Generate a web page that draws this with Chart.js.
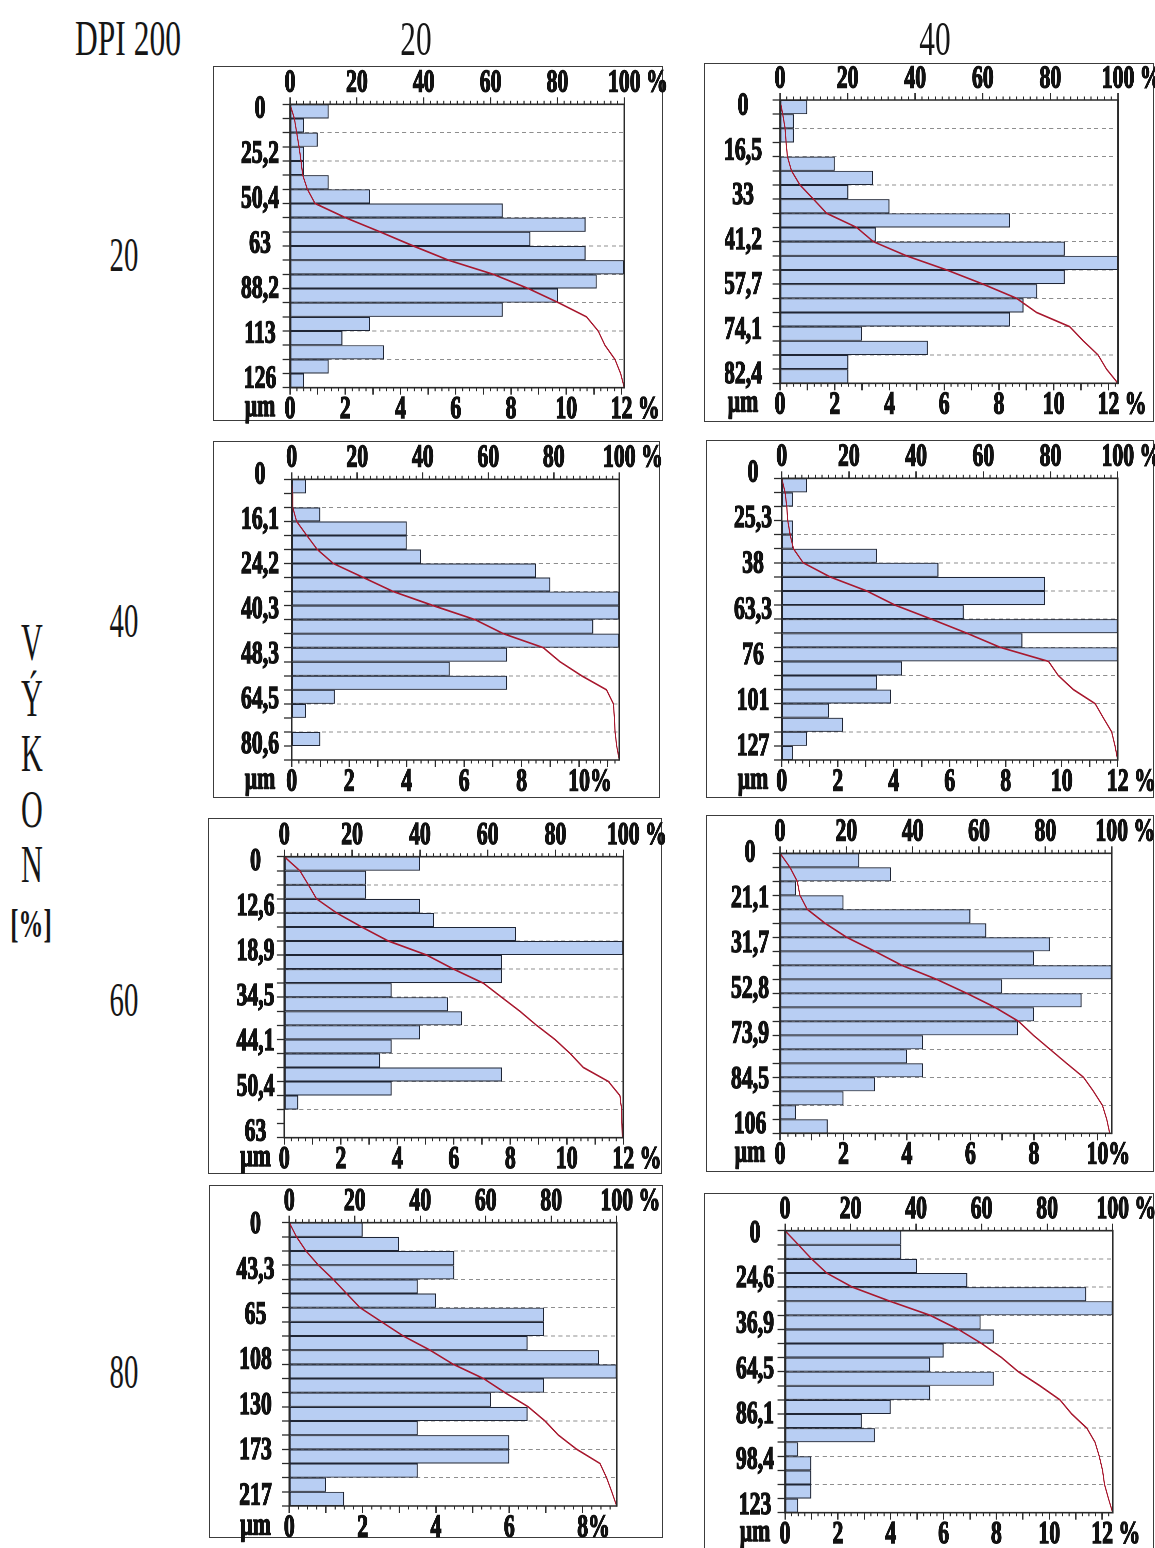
<!DOCTYPE html>
<html lang="cs">
<head>
<meta charset="utf-8">
<title>DPI 200</title>
<script src="https://cdn.jsdelivr.net/npm/chart.js@4.4.1/dist/chart.umd.min.js"></script>
<style>
  html, body { margin: 0; padding: 0; background: #fff; }
  body { position: relative; width: 1155px; height: 1548px; overflow: hidden; }
  .txt { position: absolute; font-family: "Liberation Serif", "Times New Roman", serif; color: #161616;
         line-height: 1; white-space: nowrap; }
  .frame { position: absolute; box-sizing: border-box; border: 1.5px solid #3c3c3c; }
  .plotbox { position: absolute; transform-origin: 0 0; }
  .plotbox canvas { display: block; }
</style>
</head>
<body>
<script>
// ---------------------------------------------------------------------------
// Size-class labels [µm] printed beside each histogram (rows = výkon, cols = 20 / 40)
const size_20_20 = ['0', '25,2', '50,4', '63', '88,2', '113', '126'];
const size_20_40 = ['0', '16,5', '33', '41,2', '57,7', '74,1', '82,4'];
const size_40_20 = ['0', '16,1', '24,2', '40,3', '48,3', '64,5', '80,6'];
const size_40_40 = ['0', '25,3', '38', '63,3', '76', '101', '127'];
const size_60_20 = ['0', '12,6', '18,9', '34,5', '44,1', '50,4', '63'];
const size_60_40 = ['0', '21,1', '31,7', '52,8', '73,9', '84,5', '106'];
const size_80_20 = ['0', '43,3', '65', '108', '130', '173', '217'];
const size_80_40 = ['0', '24,6', '36,9', '64,5', '86,1', '98,4', '123'];

// Share of particles in each of the 20 size classes [%], finest class first
const freq_20_20 = [1.4, 0.5, 1.0, 0.5, 0.5, 1.4, 2.9, 7.7, 10.7, 8.7, 10.7, 12.1, 11.1, 9.7, 7.7, 2.9, 1.9, 3.4, 1.4, 0.5];
const freq_20_40 = [1.0, 0.5, 0.5, 0, 2.0, 3.4, 2.5, 4.0, 8.4, 3.5, 10.4, 12.35, 10.4, 9.4, 8.9, 8.4, 3.0, 5.4, 2.5, 2.5];
const freq_40_20 = [0.5, 0, 1.0, 4.0, 4.0, 4.5, 8.5, 9.0, 11.4, 11.4, 10.5, 11.4, 7.5, 5.5, 7.5, 1.5, 0.5, 0, 1.0, 0];
const freq_40_40 = [0.9, 0.4, 0, 0.4, 0.4, 3.4, 5.6, 9.4, 9.4, 6.5, 12.0, 8.6, 12.0, 4.3, 3.4, 3.9, 1.7, 2.2, 0.9, 0.4];
const freq_60_20 = [4.8, 2.9, 2.9, 4.8, 5.3, 8.2, 12.0, 7.7, 7.7, 3.8, 5.8, 6.3, 4.8, 3.8, 3.4, 7.7, 3.8, 0.5, 0, 0];
const freq_60_40 = [2.5, 3.5, 0.5, 2.0, 6.0, 6.5, 8.5, 8.0, 10.45, 7.0, 9.5, 8.0, 7.5, 4.5, 4.0, 4.5, 3.0, 2.0, 0.5, 1.5];
const freq_80_20 = [2.0, 3.0, 4.5, 4.5, 3.5, 4.0, 6.95, 6.95, 6.5, 8.45, 8.93, 6.95, 5.5, 6.5, 3.5, 6.0, 6.0, 3.5, 1.0, 1.5];
const freq_80_40 = [4.4, 4.4, 5.0, 6.9, 11.4, 12.4, 7.4, 7.9, 6.0, 5.5, 7.9, 5.5, 4.0, 2.9, 3.4, 0.5, 1.0, 1.0, 1.0, 0.5];

// Cumulative share [%] at each class boundary 0 … 20
const cum_20_20 = [0, 1.3, 2.0, 2.7, 3.3, 3.8, 5.2, 7.5, 16.6, 26.9, 36.9, 47.4, 60.8, 71.3, 80.3, 88.7, 92.2, 94.2, 97.2, 98.9, 100];
const cum_20_40 = [0, 0.8, 1.5, 1.8, 2.2, 3.4, 5.9, 9.9, 13.8, 22.7, 27.6, 37.4, 49.3, 60.1, 70.0, 75.9, 85.7, 89.7, 94.1, 96.6, 100];
const cum_40_20 = [0, 0.2, 0.3, 1.5, 4.6, 7.8, 12.7, 21.9, 31.0, 43.2, 56.0, 64.6, 76.8, 81.9, 88.5, 96.1, 98.2, 98.5, 98.7, 99.2, 100];
const cum_40_40 = [0, 1.0, 1.5, 1.8, 2.5, 3.5, 6.4, 14.4, 25.3, 33.7, 44.6, 55.1, 65.0, 79.4, 82.3, 86.8, 93.3, 95.7, 98.2, 99.2, 100];
const cum_60_20 = [0, 4.6, 7.1, 9.5, 15.4, 22.8, 30.7, 42.0, 49.9, 58.7, 64.1, 69.5, 74.4, 79.8, 84.3, 88.2, 95.6, 99.0, 99.5, 99.6, 99.7];
const cum_60_40 = [0, 3.0, 5.2, 6.0, 8.2, 13.6, 20.1, 28.6, 36.7, 47.2, 56.3, 64.8, 71.9, 76.4, 81.4, 86.4, 91.5, 94.5, 97.2, 98.5, 99.4];
const cum_80_20 = [0, 2.2, 5.1, 8.9, 13.4, 17.5, 21.6, 28.2, 34.8, 43.0, 50.1, 59.3, 65.9, 73.0, 78.1, 82.2, 87.8, 94.9, 96.9, 98.5, 100];
const cum_80_40 = [0, 4.1, 8.1, 12.7, 20.5, 32.0, 44.3, 52.9, 60.0, 66.1, 71.2, 77.8, 83.9, 87.5, 92.1, 94.6, 95.9, 96.9, 97.5, 98.7, 100];

// Axis tick labels
const topTicks = ['0', '20', '40', '60', '80', '100 %'];
const bottomTicks12 = ['0', '2', '4', '6', '8', '10', '12 %'];
const bottomTicks10 = ['0', '2', '4', '6', '8', '10%'];
const bottomTicks8 = ['0', '2', '4', '6', '8%'];

// Headings
const cornerHead = 'DPI 200';
const columnHeads = ['20', '40'];
const rowHeads = ['20', '40', '60', '80'];
const sideTitle = ['V', 'Ý', 'K', 'O', 'N'];
const sideUnit = '[%]';
const sizeUnit = 'µm';

// ---------------------------------------------------------------------------
// Page layout of the eight panels (frame and plot rectangles in page pixels)
const panels = [
  { size: size_20_20, freq: freq_20_20, cum: cum_20_20, ticks: bottomTicks12, xMax: 12.1,
    frame: [213, 66, 663, 421],    plot: [290, 104.3, 624.3, 387.7],   labelSpan: [0.35, 19.4], labelGap: 30 },
  { size: size_20_40, freq: freq_20_40, cum: cum_20_40, ticks: bottomTicks12, xMax: 12.35,
    frame: [704, 63, 1154, 422],   plot: [780, 100, 1118, 383.3],      labelSpan: [0.45, 19.4], labelGap: 37 },
  { size: size_40_20, freq: freq_40_20, cum: cum_40_20, ticks: bottomTicks10, xMax: 11.4,
    frame: [213, 441, 660, 798],   plot: [291.7, 479.3, 619.3, 760],   labelSpan: [-0.3, 18.9], labelGap: 31.7 },
  { size: size_40_40, freq: freq_40_40, cum: cum_40_40, ticks: bottomTicks12, xMax: 12.0,
    frame: [706, 440, 1154, 798],  plot: [781.7, 478.3, 1117.7, 760],  labelSpan: [-0.35, 19.05], labelGap: 28.7 },
  { size: size_60_20, freq: freq_60_20, cum: cum_60_20, ticks: bottomTicks12, xMax: 12.0,
    frame: [208, 818, 662, 1174],  plot: [284.3, 856.7, 623.3, 1137.7], labelSpan: [0.36, 19.6], labelGap: 28.8 },
  { size: size_60_40, freq: freq_60_40, cum: cum_60_40, ticks: bottomTicks10, xMax: 10.45,
    frame: [706, 815, 1154, 1172], plot: [780, 853.3, 1111.7, 1133.3], labelSpan: [0, 19.4], labelGap: 30 },
  { size: size_80_20, freq: freq_80_20, cum: cum_80_20, ticks: bottomTicks8, xMax: 8.93,
    frame: [209, 1185, 663, 1538], plot: [289.3, 1222.7, 616.7, 1506], labelSpan: [0.15, 19.3], labelGap: 33.8 },
  { size: size_80_40, freq: freq_80_40, cum: cum_80_40, ticks: bottomTicks12, xMax: 12.4,
    frame: [704, 1193, 1154, 1560], plot: [785, 1230.7, 1112.7, 1512.7], labelSpan: [0.2, 19.5], labelGap: 30 }
];

// ---------------------------------------------------------------------------
// Styling
const SX = 0.68;          // horizontal squeeze of the narrow Times-like lettering
const EXT = 12;           // canvas overhang around each frame
const SERIF = '"Liberation Serif", "Times New Roman", serif';
const INK = '#121212';
const AXIS = '#2a2a2a';
const GRID = '#8e8e8e';
const BAR_FILL = '#b8cef3';
const BAR_EDGE = '#1f2636';
const CURVE = '#a8192f';
const FONT_SIZE = 32;
const TICK_FONT = { family: SERIF, size: FONT_SIZE, weight: 'bold', lineHeight: 1 };
const TEXT_STROKE = 1.4;
const Y_TICK = 11, Y_LABEL = 70, X_BAND = 37;

const measure = document.createElement('canvas').getContext('2d');
measure.font = `bold ${FONT_SIZE}px ${SERIF}`;

// Keep the number of a "… %" label centred on its tick, the sign hanging to the right
function numberCentred(s) {
  if (/\s%$/.test(s)) return '\u00a0'.repeat(5) + s;
  if (/%$/.test(s)) return '\u00a0'.repeat(4) + s;
  return s;
}

// Plot frame, fine outer ticks and the µm caption
const frameDecor = {
  id: 'frameDecor',
  afterDatasetsDraw(chart, args, opts) {
    const { ctx, chartArea: a, scales } = chart;
    const seg = (x1, y1, x2, y2) => { ctx.beginPath(); ctx.moveTo(x1, y1); ctx.lineTo(x2, y2); ctx.stroke(); };
    ctx.save();
    ctx.strokeStyle = AXIS;
    ctx.lineWidth = 1.1 / SX;
    for (let v = 2; v < 100; v += 2) {
      const x = scales.x2.getPixelForValue(v);
      seg(x, a.top - 3.5, x, a.top);
    }
    for (let v = 0.25; v < scales.x.max - 0.01; v += 0.25) {
      const x = scales.x.getPixelForValue(v);
      seg(x, a.bottom, x, a.bottom + 3.5);
    }
    ctx.lineWidth = 1.6;
    seg(a.left, a.top, a.right, a.top);
    seg(a.left, a.bottom, a.right, a.bottom);
    ctx.lineWidth = 1.6 / SX;
    seg(a.left, a.top - 0.8, a.left, a.bottom + 0.8);
    seg(a.right, a.top - 0.8, a.right, a.bottom + 0.8);
    ctx.fillStyle = INK;
    ctx.strokeStyle = INK;
    ctx.lineWidth = TEXT_STROKE;
    ctx.lineJoin = 'round';
    ctx.font = `bold ${FONT_SIZE}px ${SERIF}`;
    ctx.textAlign = 'center';
    ctx.textBaseline = 'middle';
    const cx = a.left - opts.gap, cy = a.bottom + 20;
    ctx.strokeText(sizeUnit, cx, cy);
    ctx.fillText(sizeUnit, cx, cy);
    ctx.restore();
  }
};

panels.forEach(p => {
  const [fl, ft, fr, fb] = p.frame;
  const [pl, pt, pr, pb] = p.plot;

  const frame = document.createElement('div');
  frame.className = 'frame';
  Object.assign(frame.style, { left: fl + 'px', top: ft + 'px', width: (fr - fl) + 'px', height: (fb - ft) + 'px' });
  document.body.appendChild(frame);

  const cl = fl - EXT, ct = ft - EXT;
  const cw = fr - fl + 2 * EXT, ch = fb - ft + 2 * EXT;
  const W = Math.round(cw / SX);
  const box = document.createElement('div');
  box.className = 'plotbox';
  Object.assign(box.style, { left: cl + 'px', top: ct + 'px', width: W + 'px', height: ch + 'px',
                             transform: `scaleX(${SX})` });
  const canvas = document.createElement('canvas');
  canvas.width = W;
  canvas.height = ch;
  box.appendChild(canvas);
  document.body.appendChild(box);

  const plotL = (pl - cl) / SX, plotR = (pr - cl) / SX;
  const padding = {
    left: plotL - Y_LABEL - Y_TICK,
    right: W - plotR,
    top: (pt - ct) - X_BAND,
    bottom: (ct + ch - pb) - X_BAND
  };
  const widest = Math.max(...p.size.map(s => measure.measureText(s).width));
  const gap = p.labelGap / SX;
  const [s0, s1] = p.labelSpan;
  const labelAt = p.size.map((_, i) => s0 + (s1 - s0) * i / (p.size.length - 1));

  const tickText = { color: INK, font: TICK_FONT, textStrokeColor: INK, textStrokeWidth: TEXT_STROKE };

  new Chart(canvas, {
    type: 'bar',
    data: {
      datasets: [
        {
          type: 'line',
          data: p.cum.map((c, k) => ({ x: c, y: k })),
          xAxisID: 'x2', yAxisID: 'y',
          borderColor: CURVE, borderWidth: 1.7,
          pointRadius: 0, tension: 0, fill: false, order: 0
        },
        {
          type: 'bar',
          data: p.freq.map((f, k) => ({ x: f, y: k + 0.5 })),
          xAxisID: 'x', yAxisID: 'y',
          backgroundColor: BAR_FILL, borderColor: BAR_EDGE,
          borderWidth: { top: 1.1, bottom: 1.1, left: 1.6, right: 1.6 },
          borderSkipped: false, inflateAmount: 0,
          barPercentage: 1, categoryPercentage: 1, order: 1
        }
      ]
    },
    options: {
      indexAxis: 'y',
      responsive: false,
      animation: false,
      devicePixelRatio: 2,
      layout: { padding },
      plugins: { legend: { display: false }, tooltip: { enabled: false }, frameDecor: { gap } },
      scales: {
        x: {
          type: 'linear', position: 'bottom', min: 0, max: p.xMax,
          grid: { display: true, drawOnChartArea: false, drawTicks: true, tickLength: 7, tickColor: AXIS, tickWidth: 1.3 / SX },
          border: { display: false },
          ticks: {
            stepSize: 1, autoSkip: false, includeBounds: false, maxRotation: 0, minRotation: 0, padding: -1,
            ...tickText,
            callback: v => (v % 2 === 0 && v / 2 < p.ticks.length) ? numberCentred(p.ticks[v / 2]) : ''
          },
          afterFit: s => { s.height = X_BAND; s.paddingLeft = 0; s.paddingRight = 0; }
        },
        x2: {
          type: 'linear', position: 'top', min: 0, max: 100,
          grid: { display: true, drawOnChartArea: false, drawTicks: true, tickLength: 7, tickColor: AXIS, tickWidth: 1.3 / SX },
          border: { display: false },
          ticks: {
            stepSize: 20, autoSkip: false, maxRotation: 0, minRotation: 0, padding: -2,
            ...tickText,
            callback: v => numberCentred(topTicks[Math.round(v / 20)] || '')
          },
          afterFit: s => { s.height = X_BAND; s.paddingLeft = 0; s.paddingRight = 0; }
        },
        y: {
          type: 'linear', position: 'left', min: 0, max: 20, reverse: true, offset: false, weight: 0,
          grid: {
            offset: false, lineWidth: 1,
            color: c => (c.tick && c.tick.value % 2 === 0 && c.tick.value > 0 && c.tick.value < 20) ? GRID : 'rgba(0,0,0,0)',
            drawTicks: true, tickLength: Y_TICK, tickColor: AXIS, tickWidth: 1.3
          },
          border: { display: false, dash: [6, 5] },
          ticks: { display: false, stepSize: 1, autoSkip: false, includeBounds: false },
          afterFit: s => { s.width = Y_TICK; s.paddingTop = 0; s.paddingBottom = 0; }
        },
        yl: {
          type: 'linear', position: 'left', min: 0, max: 20, reverse: true, offset: false, weight: 1,
          grid: { display: false, drawTicks: false, offset: false },
          border: { display: false },
          afterBuildTicks: s => { s.ticks = labelAt.map(v => ({ value: v })); },
          ticks: {
            autoSkip: false, crossAlign: 'center', padding: gap - Y_TICK - widest / 2,
            ...tickText,
            callback: (v, i) => p.size[i]
          },
          afterFit: s => { s.width = Y_LABEL; s.paddingTop = 0; s.paddingBottom = 0; }
        }
      }
    },
    plugins: [frameDecor]
  });
});

// ---------------------------------------------------------------------------
// Headings around the grid of panels
function put(text, cx, cy, size, squeeze, weight) {
  const d = document.createElement('div');
  d.className = 'txt';
  d.textContent = text;
  d.style.fontSize = size + 'px';
  d.style.fontWeight = weight || 'normal';
  d.style.left = cx + 'px';
  d.style.top = cy + 'px';
  d.style.transform = `translate(-50%, -50%) scaleX(${squeeze})`;
  document.body.appendChild(d);
}

put(cornerHead, 128, 38, 50, 0.63);
const colX = [416, 935];
columnHeads.forEach((t, i) => put(t, colX[i], 38, 49, 0.64));
const rowY = [255, 621, 1000, 1372];
rowHeads.forEach((t, i) => put(t, 124, rowY[i], 48, 0.6));
sideTitle.forEach((t, i) => put(t, 32, 643 + i * 55.5, 52, 0.58));
put(sideUnit, 31, 924, 40, 0.62, 'bold');
</script>
</body>
</html>
